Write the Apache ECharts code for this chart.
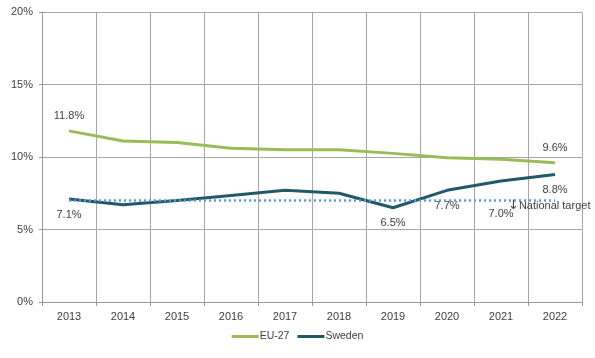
<!DOCTYPE html>
<html><head><meta charset="utf-8">
<script src="https://cdn.jsdelivr.net/npm/echarts@6/dist/echarts.min.js"></script>
<style>html,body{margin:0;padding:0;background:#fff}#c{width:595px;height:358px}</style>
</head><body><div id="c"></div>
<script>
const years = ['2013','2014','2015','2016','2017','2018','2019','2020','2021','2022'];
const eu27 = [11.8, 11.1, 11.0, 10.6, 10.5, 10.5, 10.25, 9.95, 9.85, 9.6];
const sweden = [7.1, 6.7, 7.0, 7.35, 7.7, 7.5, 6.5, 7.7, 8.35, 8.8];
const target = [7.0, 7.0, 7.0, 7.0, 7.0, 7.0, 7.0, 7.0, 7.0, 7.0];
const yTicks = [0, 5, 10, 15, 20];
const euLabelIdx = [0, 9];
const seLabelIdx = [0, 6, 7, 9];
const targetLabelIdx = [8];
const targetName = 'National target';

const font = 'Liberation Sans';
const txt = '#404040';
function lbl(idxs, pos, dist) {
  return (v, i) => ({
    value: v,
    label: { show: idxs.includes(i), position: pos, distance: dist, formatter: v.toFixed(1) + '%',
      color: txt, fontFamily: font, fontSize: 11 }
  });
}
const chart = echarts.init(document.getElementById('c'));
chart.setOption({
  animation: false,
  textStyle: { fontFamily: font },
  grid: { left: 42, right: 13, top: 12, bottom: 56 },
  legend: {
    bottom: 11, left: 'center', itemWidth: 27, itemHeight: 3, itemGap: 8,
    icon: 'rect',
    data: ['EU-27', 'Sweden'],
    textStyle: { color: txt, fontSize: 10.5, fontFamily: font, padding: [0, 0, 0, -4] }
  },
  xAxis: {
    type: 'category', data: years, boundaryGap: true,
    axisLine: { lineStyle: { color: '#999', width: 1 } },
    axisTick: { show: true, length: 4, lineStyle: { color: '#999' } },
    splitLine: { show: true, lineStyle: { color: '#a6a6a6', width: 1 } },
    axisLabel: { color: txt, fontSize: 11, fontFamily: font, margin: 9 }
  },
  yAxis: {
    type: 'value', min: yTicks[0], max: yTicks[yTicks.length - 1], interval: 5,
    axisLine: { show: true, lineStyle: { color: '#999' } },
    axisTick: { show: true, length: 3, lineStyle: { color: '#999' } },
    splitLine: { show: true, lineStyle: { color: '#a6a6a6', width: 1 } },
    axisLabel: { color: txt, fontSize: 11, fontFamily: font, margin: 9, formatter: v => v + '%' }
  },
  series: [
    { name: 'EU-27', type: 'line', symbol: 'circle', symbolSize: 0, showSymbol: true, z: 3,
      lineStyle: { color: '#9bbb59', width: 3 }, itemStyle: { color: '#9bbb59' },
      data: eu27.map(lbl(euLabelIdx, 'top', 9)) },
    { name: 'Sweden', type: 'line', symbol: 'circle', symbolSize: 0, showSymbol: true, z: 4,
      lineStyle: { color: '#215968', width: 3 }, itemStyle: { color: '#215968' },
      data: sweden.map(lbl(seLabelIdx, 'bottom', 10)) },
    { name: 'target', type: 'line', symbol: 'circle', symbolSize: 0, showSymbol: true, z: 5,
      lineStyle: { color: '#5b9bd5', width: 2.5, type: [2, 3] }, itemStyle: { color: '#5b9bd5' },
      data: target.map(lbl(targetLabelIdx, 'bottom', 8)),
      markPoint: {
        symbol: 'circle', symbolSize: 0,
        data: [{ coord: ['2021', target[8]], value: 0 }],
        label: { show: true, position: 'right', offset: [2, 5],
          formatter: '{a|↓}' + targetName,
          rich: { a: { fontFamily: 'DejaVu Sans', fontSize: 13, color: txt } },
          color: txt, fontFamily: font, fontSize: 11 }
      } }
  ]
});
</script></body></html>
